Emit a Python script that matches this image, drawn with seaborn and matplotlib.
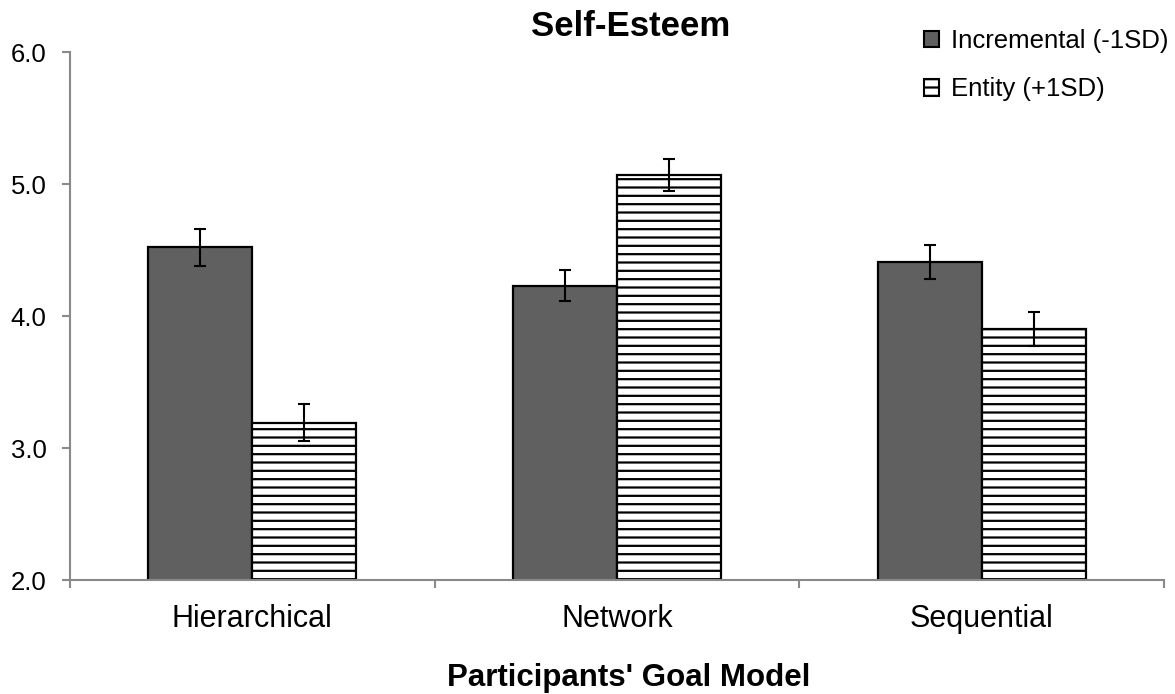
#!/usr/bin/env python3
"""
Self-Esteem by participants' goal model, grouped bars with error bars
"""

import numpy as np
import pandas as pd
import matplotlib
matplotlib.use("Agg")
import matplotlib.pyplot as plt
import matplotlib.patches as mpatches
from matplotlib.ticker import FixedLocator, FormatStrFormatter
import seaborn as sns

# Data
categories = ["Hierarchical", "Network", "Sequential"]
series_names = ["Incremental (-1SD)", "Entity (+1SD)"]
incremental = [4.52, 4.23, 4.41]
entity = [3.19, 5.07, 3.90]
incremental_err = [0.14, 0.12, 0.13]
entity_err = [0.14, 0.12, 0.13]
y_ticks = [2.0, 3.0, 4.0, 5.0, 6.0]

AXIS_GRAY = "#898989"
BAR_DARK = "#606060"

df = pd.DataFrame({
    "model": categories * 2,
    "group": [series_names[0]] * 3 + [series_names[1]] * 3,
    "score": incremental + entity,
})
errors = [incremental_err, entity_err]

sns.set_style("white")
plt.rcParams["font.family"] = ["Liberation Sans", "DejaVu Sans"]
plt.rcParams["text.color"] = "black"
plt.rcParams["xtick.labelcolor"] = "black"
plt.rcParams["ytick.labelcolor"] = "black"
plt.rcParams["hatch.linewidth"] = 1.6

fig = plt.figure(figsize=(11.75, 6.94), dpi=100)
ax = fig.add_axes([70 / 1175, 114 / 694, 1094 / 1175, 528 / 694])

sns.barplot(data=df, x="model", y="score", hue="group", order=categories,
            hue_order=series_names, palette=[BAR_DARK, "white"],
            width=0.57, gap=0, errorbar=None, edgecolor="black",
            linewidth=1.6, saturation=1, ax=ax, legend=False)

# hatch for the entity bars, error bars at bar centres
bar_containers = list(ax.containers)
for i, container in enumerate(bar_containers):
    xs = []
    for bar in container.patches:
        if i == 1:
            bar.set_hatch("--")
            bar.set_edgecolor("black")
        xs.append(bar.get_x() + bar.get_width() / 2)
    vals = df[df["group"] == series_names[i]]["score"].values
    ax.errorbar(xs, vals, yerr=errors[i], fmt="none", ecolor="black",
                elinewidth=1.5, capsize=4.3, capthick=1.5, zorder=5)

ax.set_ylim(2.0, 6.0)
ax.set_xlim(-0.5, 2.5)
ax.yaxis.set_major_locator(FixedLocator(y_ticks))
ax.yaxis.set_major_formatter(FormatStrFormatter("%.1f"))

# category labels on minor ticks, boundary ticks on major
ax.xaxis.set_major_locator(FixedLocator([-0.5, 0.5, 1.5, 2.5]))
ax.xaxis.set_minor_locator(FixedLocator([0, 1, 2]))
ax.set_xticklabels([], minor=False)
ax.set_xticklabels(categories, minor=True)
ax.tick_params(axis="x", which="major", direction="out", length=6,
               width=1.5, color=AXIS_GRAY, bottom=True)
ax.tick_params(axis="x", which="minor", length=0, pad=17, labelsize=22,
               labelcolor="black")
ax.tick_params(axis="y", direction="out", length=6, width=1.5,
               color=AXIS_GRAY, left=True, pad=11, labelsize=18.5,
               labelcolor="black")

sns.despine(ax=ax)
for side in ["left", "bottom"]:
    ax.spines[side].set_color(AXIS_GRAY)
    ax.spines[side].set_linewidth(1.5)

ax.set_ylabel("")
ax.set_xlabel("Participants' Goal Model", fontsize=22.5, fontweight="bold",
              color="black")
ax.xaxis.set_label_coords(0.511, -0.157)

fig.text(631 / 1175, 1 - 26 / 694, "Self-Esteem", fontsize=25,
         fontweight="bold", ha="center", va="center", color="black")

handles = [
    mpatches.Patch(facecolor=BAR_DARK, edgecolor="black", linewidth=1.5),
    mpatches.Patch(facecolor="white", edgecolor="black", linewidth=1.5,
                   hatch="--"),
]
leg = ax.legend(handles, series_names, loc="upper left",
                bbox_to_anchor=(924 / 1175, 1 - 29 / 694),
                bbox_transform=fig.transFigure, frameon=False, fontsize=18.5,
                handlelength=0.6, handleheight=0.6, handletextpad=0.45,
                labelspacing=0.95, borderpad=0, borderaxespad=0)
for t in leg.get_texts():
    t.set_color("black")

plt.savefig("out.png", dpi=100)
plt.close()
